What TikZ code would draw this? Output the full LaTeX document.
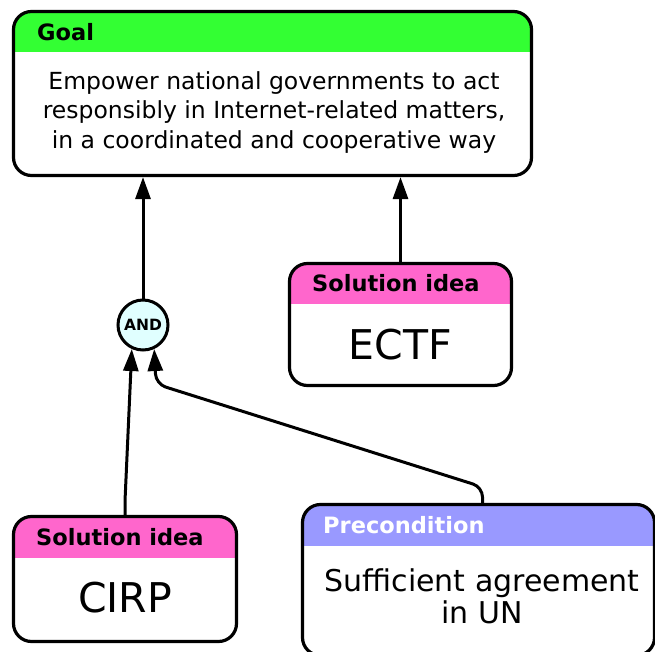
\documentclass[tikz,border=0pt]{standalone}
\usepackage{fontspec}
\setmainfont{DejaVu Sans}
\usetikzlibrary{arrows.meta}
\definecolor{goalgreen}{HTML}{33FF33}
\definecolor{solpink}{HTML}{FF66CC}
\definecolor{prepurple}{HTML}{9999FF}
\definecolor{andcyan}{HTML}{E0FFFF}
\begin{document}
\begin{tikzpicture}[x=1pt,y=-1pt,
  card/.style n args={2}{draw=black, line width=3.2pt, fill=white,
    rounded corners=18pt, inner sep=0pt, minimum width=#1, minimum height=#2},
  hdrfill/.style n args={2}{path picture={\fill[#1, sharp corners]
      (path picture bounding box.north west) rectangle
      ([yshift=-#2]path picture bounding box.north east);}},
  hdr/.style={font=\fontsize{22.5}{26}\selectfont\bfseries, anchor=west, inner sep=0pt},
  bodytxt/.style={font=\fontsize{23.5}{29.5}\selectfont, align=center, inner sep=0pt},
  bigtxt/.style={font=\fontsize{41}{48}\selectfont, inner sep=0pt},
  pretxt/.style={font=\fontsize{30}{32}\selectfont, align=center, inner sep=0pt},
  andnode/.style={circle, draw=black, line width=3pt, fill=andcyan,
    minimum size=50pt, inner sep=0pt, font=\fontsize{15.5}{18}\selectfont\bfseries},
  arr/.style={draw=black, line width=3pt, -{Triangle[length=22pt,width=15pt]}}
]
\useasboundingbox (0,0) rectangle (655,652);

% Goal
\node[card={518pt}{164pt}, hdrfill={goalgreen}{41pt}] (goal) at (272.5,93.5) {};
\node[hdr] (goalhdr) at (37,32) {Goal};
\node[bodytxt] (goaltxt) at (274,112.5) {Empower national governments to act\\responsibly in Internet-related matters,\\in a coordinated and cooperative way};

% ECTF
\node[card={222pt}{122pt}, hdrfill={solpink}{40pt}] (ectf) at (400.5,324.5) {};
\node[hdr] (ectfhdr) at (312,283) {Solution idea};
\node[bigtxt] (ectftxt) at (400.5,345) {ECTF};

% CIRP
\node[card={223pt}{125pt}, hdrfill={solpink}{41pt}] (cirp) at (125,579) {};
\node[hdr] (cirphdr) at (36,537) {Solution idea};
\node[bigtxt] (cirptxt) at (125,598) {CIRP};

% Precondition
\node[card={352pt}{151pt}, hdrfill={prepurple}{41pt}] (pre) at (478.5,580) {};
\node[hdr, text=white] (prehdr) at (323,525) {Precondition};
\node[pretxt] (pretxt) at (482,596) {Sufficient agreement\\in UN};

% AND
\node[andnode] (and) at (143,325) {AND};

% connectors
\coordinate (bendA) at (482.5,487);
\coordinate (bendB) at (156,384);
\draw[arr] (and) -- (and |- goal.south);
\draw[arr] (ectf.north) -- (ectf.north |- goal.south);
\draw[arr] (cirp.north) -- ++(0,-14) -- (and.-115);
\draw[arr, rounded corners=10pt] (bendA |- pre.north) -- (bendA) -- (bendB) -- (and.-65);
\end{tikzpicture}
\end{document}
